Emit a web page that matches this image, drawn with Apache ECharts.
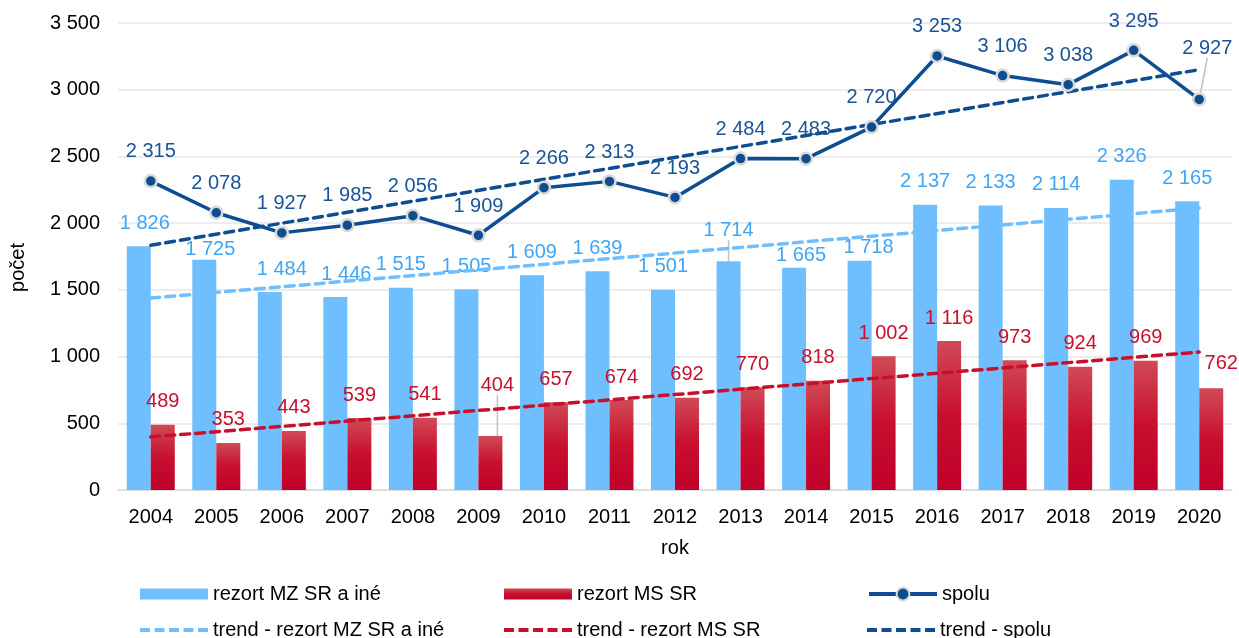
<!DOCTYPE html>
<html>
<head>
<meta charset="utf-8">
<script src="https://cdn.jsdelivr.net/npm/echarts@6/dist/echarts.min.js"></script>
<style>
html,body{margin:0;padding:0;background:#fff;}
#chart{width:1239px;height:638px;}
</style>
</head>
<body>
<div id="chart"></div>
<script>
// ---- data ----
const years = ['2004','2005','2006','2007','2008','2009','2010','2011','2012','2013','2014','2015','2016','2017','2018','2019','2020'];
const mzValues = [1826,1725,1484,1446,1515,1505,1609,1639,1501,1714,1665,1718,2137,2133,2114,2326,2165];
const msValues = [489,353,443,539,541,404,657,674,692,770,818,1002,1116,973,924,969,762];
const totalValues = [2315,2078,1927,1985,2056,1909,2266,2313,2193,2484,2483,2720,3253,3106,3038,3295,2927];
// trend lines: values read at first and last year
const trendMZ = [1439, 2113];
const trendMS = [397, 1034];
const trendTotal = [1835, 3150];
const seriesNames = ['rezort MZ SR a iné','rezort MS SR','spolu','trend - rezort MZ SR a iné','trend - rezort MS SR','trend - spolu'];

// ---- label nudges (layout only) ----
const mzNudge = {0:[6,0],1:[6,13],2:[12,0],3:[11,0],9:[0,-8],10:[7,11],11:[9,10]};
const msNudge = {5:[7,-28],16:[10,-2]};
const totNudge = {16:[8,-22]};
const leaderMZ = [9];
const leaderMS = [5];
const leaderTot = [16];

const fmt = v => String(v).replace(/\B(?=(\d{3})+(?!\d))/g, ' ');
const FONT = '"Liberation Sans", Arial, sans-serif';
const FS = 20;

const cMZ = '#6FBFFF', cMZtxt = '#3FA5F5';
const cMS = '#C8102E';
const cTot = '#0E4D92', cTotTxt = '#1B5396';
const msGrad = new echarts.graphic.LinearGradient(0,0,0,1,[
  {offset:0,color:'#D04A57'},{offset:0.5,color:'#C8102E'},{offset:1,color:'#C0002A'}]);
const dashIcon = 'path://M0,0h10v4h-10z M14.5,0h10v4h-10z M29,0h10v4h-10z M43.5,0h10v4h-10z M58,0h10v4h-10z';

function items(vals, leaders){
  return vals.map((v,i)=> leaders.includes(i) ? {value:v, labelLine:{show:true}} : v);
}
function nudger(map){
  return function(p){ const o = map[p.dataIndex]; return o ? {dx:o[0], dy:o[1]} : {}; };
}
const labelLineStyle = {show:false, lineStyle:{color:'#BFBFBF', width:1.5}, length2:0};

const legendCols = [140, 504, 867];
const legendRows = [584, 620];
function mkLegend(name, col, row, icon, h){
  const l = {data:[{name:name, icon:icon}], left:legendCols[col], top:legendRows[row], itemWidth:68, itemHeight:h,
    itemGap:8, textStyle:{fontFamily:FONT,fontSize:FS,color:'#000'}, selectedMode:false, padding:0};
  if(!icon){ delete l.data[0].icon; l.lineStyle = {width:4}; }
  return l;
}

const chart = echarts.init(document.getElementById('chart'), null, {renderer:'canvas'});
const option = {
  animation:false,
  textStyle:{fontFamily:FONT},
  grid:{left:118, right:7, top:23, bottom:148, containLabel:false},
  legend:[
    mkLegend(seriesNames[0],0,0,'rect',11),
    mkLegend(seriesNames[3],0,1,dashIcon,4),
    mkLegend(seriesNames[1],1,0,'rect',11),
    mkLegend(seriesNames[4],1,1,dashIcon,4),
    mkLegend(seriesNames[2],2,0,null,16),
    mkLegend(seriesNames[5],2,1,dashIcon,4)
  ],
  graphic:[{type:'text', left:8, top:243, rotation:Math.PI/2,
    style:{text:'počet', font:'20px "Liberation Sans", Arial, sans-serif', fill:'#000'}}],
  xAxis:{
    type:'category', data:years, boundaryGap:true,
    name:'rok', nameLocation:'middle', nameGap:48,
    nameTextStyle:{fontFamily:FONT,fontSize:FS,color:'#000'},
    axisLine:{lineStyle:{color:'#D9D9D9',width:1.5}},
    axisTick:{show:false},
    axisLabel:{fontFamily:FONT,fontSize:FS,color:'#000',margin:17}
  },
  yAxis:{
    type:'value', min:0, max:3500, interval:500,
    axisLine:{show:false}, axisTick:{show:false},
    splitLine:{lineStyle:{color:'#E6E6E6',width:1.5}},
    axisLabel:{fontFamily:FONT,fontSize:FS,color:'#000',margin:18,formatter:fmt}
  },
  series:[
    {name:seriesNames[0], type:'bar', data:items(mzValues,leaderMZ), barWidth:24, barGap:'0%',
     itemStyle:{color:cMZ},
     label:{show:true, position:'top', distance:13, color:cMZtxt, fontFamily:FONT, fontSize:FS, formatter:p=>fmt(p.value)},
     labelLine:labelLineStyle, labelLayout:nudger(mzNudge), z:2},
    {name:seriesNames[1], type:'bar', data:items(msValues,leaderMS), barWidth:24, barGap:'0%',
     itemStyle:{color:msGrad},
     label:{show:true, position:'top', distance:13, color:cMS, fontFamily:FONT, fontSize:FS, formatter:p=>fmt(p.value)},
     labelLine:labelLineStyle, labelLayout:nudger(msNudge), z:2},
    {name:seriesNames[3], type:'line', data:[[years[0],trendMZ[0]],[years[16],trendMZ[1]]],
     symbol:'none', lineStyle:{color:cMZ,width:3.5,type:[9,6],cap:'round'}, itemStyle:{color:cMZ}, z:3},
    {name:seriesNames[4], type:'line', data:[[years[0],trendMS[0]],[years[16],trendMS[1]]],
     symbol:'none', lineStyle:{color:cMS,width:3.5,type:[9,6],cap:'round'}, itemStyle:{color:cMS}, z:3},
    {name:seriesNames[5], type:'line', data:[[years[0],trendTotal[0]],[years[16],trendTotal[1]]],
     symbol:'none', lineStyle:{color:cTot,width:3.5,type:[9,6],cap:'round'}, itemStyle:{color:cTot}, z:3},
    {name:seriesNames[2], type:'line', data:items(totalValues,leaderTot),
     symbol:'circle', symbolSize:12, showAllSymbol:true,
     lineStyle:{color:cTot,width:3.5}, itemStyle:{color:cTot,borderColor:'#D9D9D9',borderWidth:2.5},
     label:{show:true, position:'top', distance:12, color:cTotTxt, fontFamily:FONT, fontSize:FS, formatter:p=>fmt(p.value)},
     labelLine:labelLineStyle, labelLayout:nudger(totNudge), z:4}
  ]
};
chart.setOption(option);
</script>
</body>
</html>
